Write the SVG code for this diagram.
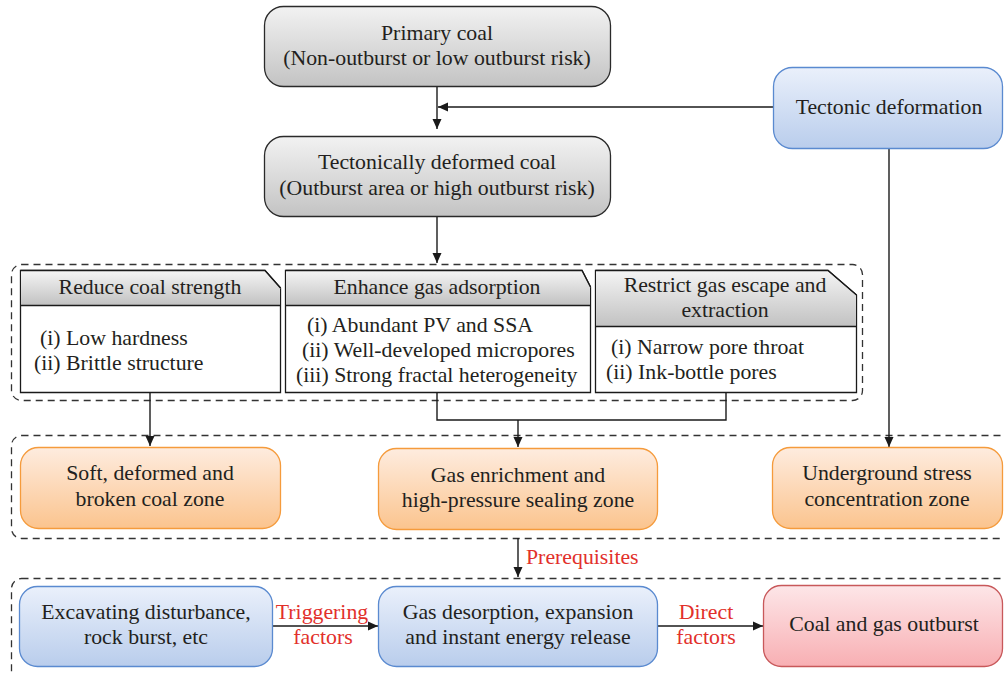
<svg xmlns="http://www.w3.org/2000/svg" width="1004" height="673" viewBox="0 0 1004 673">
<defs>
<linearGradient id="gGray" x1="0" y1="0" x2="0" y2="1"><stop offset="0" stop-color="#f2f2f2"/><stop offset="1" stop-color="#c3c3c3"/></linearGradient>
<linearGradient id="gHead" x1="0" y1="0" x2="0" y2="1"><stop offset="0" stop-color="#f4f4f4"/><stop offset="1" stop-color="#c2c2c2"/></linearGradient>
<linearGradient id="gBlue" x1="0" y1="0" x2="0" y2="1"><stop offset="0" stop-color="#eaf0fb"/><stop offset="1" stop-color="#b9cdec"/></linearGradient>
<linearGradient id="gOrange" x1="0" y1="0" x2="0" y2="1"><stop offset="0" stop-color="#feecdf"/><stop offset="1" stop-color="#fbc48e"/></linearGradient>
<linearGradient id="gRed" x1="0" y1="0" x2="0" y2="1"><stop offset="0" stop-color="#fde6e8"/><stop offset="1" stop-color="#f8afb3"/></linearGradient>
<marker id="arr" viewBox="0 0 10 10" refX="10" refY="5" markerWidth="10" markerHeight="10" markerUnits="userSpaceOnUse" orient="auto"><path d="M0,0.5 L10,5 L0,9.5 Z" fill="#1a1a1a"/></marker>
</defs>
<style>
text{font-family:"Liberation Serif","Times New Roman",serif;font-size:21.8px;fill:#231f20}
.c{text-anchor:middle}
.red{fill:#e2302b}
.gray{fill:url(#gGray);stroke:#2a2a2a;stroke-width:1.3}
.blue{fill:url(#gBlue);stroke:#5a8ad0;stroke-width:1.3}
.orange{fill:url(#gOrange);stroke:#f59b3c;stroke-width:1.3}
.redbox{fill:url(#gRed);stroke:#c8585a;stroke-width:1.3}
.dash{fill:none;stroke:#333;stroke-width:1.3;stroke-dasharray:7 5}
.card{fill:#fff;stroke:#1a1a1a;stroke-width:1.3}
.head{fill:url(#gHead);stroke:none}
.ln{fill:none;stroke:#1a1a1a;stroke-width:1.4}
</style>
<rect x="0" y="0" width="1004" height="673" fill="#fff"/>

<g id="groups">
<rect class="dash" x="11.5" y="264.5" width="851" height="136" rx="10"/>
<rect class="dash" x="11.5" y="435.5" width="1010" height="103" rx="10"/>
<rect class="dash" x="11.5" y="578.5" width="1010" height="110" rx="10"/>
</g>

<g id="connectors">
<line class="ln" x1="437" y1="87" x2="437" y2="129" marker-end="url(#arr)"/>
<line class="ln" x1="773" y1="107" x2="438" y2="107" marker-end="url(#arr)"/>
<line class="ln" x1="889" y1="149" x2="889" y2="447" marker-end="url(#arr)"/>
<line class="ln" x1="437" y1="217" x2="437" y2="263" marker-end="url(#arr)"/>
<line class="ln" x1="150" y1="392" x2="150" y2="446" marker-end="url(#arr)"/>
<polyline class="ln" points="437,392 437,420 726,420 726,392"/>
<line class="ln" x1="518" y1="420" x2="518" y2="447" marker-end="url(#arr)"/>
<line class="ln" x1="518" y1="538" x2="518" y2="577" marker-end="url(#arr)"/>
<line class="ln" x1="272" y1="626" x2="378" y2="626" marker-end="url(#arr)"/>
<line class="ln" x1="657" y1="626" x2="763" y2="626" marker-end="url(#arr)"/>
<text class="red" x="526" y="564">Prerequisites</text>
<text class="red c" x="322" y="619">Triggering</text>
<text class="red c" x="323" y="644">factors</text>
<text class="red c" x="706" y="619">Direct</text>
<text class="red c" x="706" y="644">factors</text>
</g>

<g id="primary-coal">
<rect class="gray" x="264.5" y="6.5" width="346" height="80" rx="19"/>
<text class="c" x="437" y="40">Primary coal</text>
<text class="c" x="437" y="65">(Non-outburst or low outburst risk)</text>
</g>

<g id="tectonic-deformation">
<rect class="blue" x="773.5" y="67.5" width="229" height="81" rx="19"/>
<text class="c" x="889" y="114">Tectonic deformation</text>
</g>

<g id="tectonically-deformed-coal">
<rect class="gray" x="264.5" y="136.5" width="346" height="80" rx="19"/>
<text class="c" x="437" y="169">Tectonically deformed coal</text>
<text class="c" x="437" y="195">(Outburst area or high outburst risk)</text>
</g>

<g id="card-strength">
<path class="card" d="M20.5,270.5 H265 L280.5,288 V392.5 H20.5 Z"/>
<path class="head" d="M21,271 H264.7 L280,288.3 V305 H21 Z"/>
<path class="ln" d="M20.5,305.5 H280.5 M20.5,270.5 H265 L280.5,288"/>
<text class="c" x="150" y="294">Reduce coal strength</text>
<text x="40" y="345">(i) Low hardness</text>
<text x="34" y="370">(ii) Brittle structure</text>
</g>

<g id="card-adsorption">
<path class="card" d="M285.5,270.5 H582 L590.5,287 V392.5 H285.5 Z"/>
<path class="head" d="M286,271 H581.7 L590,287.3 V305 H286 Z"/>
<path class="ln" d="M285.5,305.5 H590.5 M285.5,270.5 H582 L590.5,287"/>
<text class="c" x="437" y="294">Enhance gas adsorption</text>
<text x="307" y="332">(i) Abundant PV and SSA</text>
<text x="302" y="357">(ii) Well-developed micropores</text>
<text x="296" y="382">(iii) Strong fractal heterogeneity</text>
</g>

<g id="card-escape">
<path class="card" d="M595.5,270.5 H828 L856.5,295 V392.5 H595.5 Z"/>
<path class="head" d="M596,271 H827.8 L856,295.3 V326 H596 Z"/>
<path class="ln" d="M595.5,326.5 H856.5 M595.5,270.5 H828 L856.5,295"/>
<text class="c" x="725" y="292">Restrict gas escape and</text>
<text class="c" x="725" y="317">extraction</text>
<text x="611" y="354">(i) Narrow pore throat</text>
<text x="606" y="379">(ii) Ink-bottle pores</text>
</g>

<g id="soft-zone">
<rect class="orange" x="20.5" y="447.5" width="260" height="81" rx="18"/>
<text class="c" x="150" y="480">Soft, deformed and</text>
<text class="c" x="150" y="506">broken coal zone</text>
</g>

<g id="gas-enrichment-zone">
<rect class="orange" x="378.5" y="448.5" width="279" height="81" rx="18"/>
<text class="c" x="518" y="482">Gas enrichment and</text>
<text class="c" x="518" y="507">high-pressure sealing zone</text>
</g>

<g id="stress-zone">
<rect class="orange" x="772.5" y="447.5" width="230" height="81" rx="18"/>
<text class="c" x="887" y="480">Underground stress</text>
<text class="c" x="887" y="506">concentration zone</text>
</g>

<g id="excavating">
<rect class="blue" x="19.5" y="586.5" width="253" height="80" rx="18"/>
<text class="c" x="146" y="619">Excavating disturbance,</text>
<text class="c" x="146" y="644">rock burst, etc</text>
</g>

<g id="gas-desorption">
<rect class="blue" x="378.5" y="586.5" width="279" height="80" rx="18"/>
<text class="c" x="518" y="619">Gas desorption, expansion</text>
<text class="c" x="518" y="644">and instant energy release</text>
</g>

<g id="outburst">
<rect class="redbox" x="763.5" y="585.5" width="239" height="81" rx="18"/>
<text class="c" x="884" y="631">Coal and gas outburst</text>
</g>
</svg>
